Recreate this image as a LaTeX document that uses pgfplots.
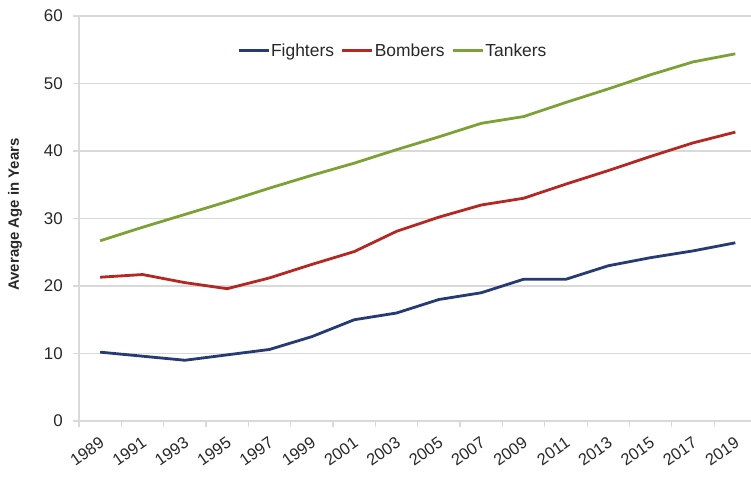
\documentclass[border=0pt]{standalone}
\usepackage{pgfplots}
\pgfplotsset{compat=1.18}
\usepackage{fontspec}
\setmainfont{Liberation Sans}
\definecolor{fighters}{RGB}{38,58,115}
\definecolor{bombers}{RGB}{180,40,35}
\definecolor{tankers}{RGB}{125,160,55}
\definecolor{gridc}{RGB}{217,217,217}
\definecolor{labelc}{RGB}{40,40,40}
\begin{document}
\begin{tikzpicture}
\begin{axis}[
  at={(0,0)}, anchor=south west,
  scale only axis, width=672bp, height=405bp,
  xmin=-0.5, xmax=15.37, ymin=0, ymax=60,
  axis x line*=bottom, axis y line*=left,
  axis line style={gridc, line width=1.2bp, -},
  ytick={0,10,...,60},
  ymajorgrids, grid style={gridc, line width=1.2bp},
  xtick={0,...,15},
  xticklabels={1989,1991,1993,1995,1997,1999,2001,2003,2005,2007,2009,2011,2013,2015,2017,2019},
  minor xtick={-0.5,0.5,...,14.5},
  tick align=outside,
  major tick length=6bp, minor tick length=6bp,
  major x tick style={draw=none},
  minor x tick style={gridc, line width=1.2bp},
  ytick style={gridc, line width=1.2bp},
  /pgf/number format/assume math mode=true,
  yticklabel shift=10bp,
  xticklabel shift=14bp,
  yticklabel style={font=\fontsize{17}{20}\selectfont, text=labelc, inner sep=0pt, anchor=east},
  xticklabel style={font=\fontsize{16.5}{19}\selectfont, text=labelc, inner sep=0pt, xshift=2bp, rotate=35, anchor=east},
  ylabel={Average Age in Years},
  ylabel style={at={(axis description cs:-0.0952,0.51)}, anchor=center, font=\bfseries\fontsize{15}{18}\selectfont, text=labelc},
  legend columns=3,
  legend style={at={(0.4663,0.914)}, anchor=center, draw=none, fill=none,
    font=\fontsize{17.5}{20}\selectfont, text=labelc,
    /tikz/every even column/.append style={column sep=6bp},
    nodes={inner sep=1bp}},
  legend image code/.code={\draw[#1, line width=2.8bp] (0bp,0bp) -- (30bp,0bp);},
  every axis plot/.append style={line width=2.8bp, line join=round},
]
\addplot[fighters] coordinates {(0,10.2) (1,9.6) (2,9.0) (3,9.8) (4,10.6) (5,12.5) (6,15.0) (7,16.0) (8,18.0) (9,19.0) (10,21.0) (11,21.0) (12,23.0) (13,24.2) (14,25.2) (15,26.4)};
\addlegendentry{Fighters}
\addplot[bombers] coordinates {(0,21.3) (1,21.7) (2,20.5) (3,19.6) (4,21.2) (5,23.2) (6,25.1) (7,28.1) (8,30.2) (9,32.0) (10,33.0) (11,35.1) (12,37.1) (13,39.2) (14,41.2) (15,42.8)};
\addlegendentry{Bombers}
\addplot[tankers] coordinates {(0,26.7) (1,28.7) (2,30.6) (3,32.5) (4,34.5) (5,36.4) (6,38.2) (7,40.2) (8,42.1) (9,44.1) (10,45.1) (11,47.2) (12,49.2) (13,51.3) (14,53.2) (15,54.4)};
\addlegendentry{Tankers}
\end{axis}
\pgfresetboundingbox
\path (-79bp,-56bp) rectangle (672bp,421bp);
\end{tikzpicture}
\end{document}
